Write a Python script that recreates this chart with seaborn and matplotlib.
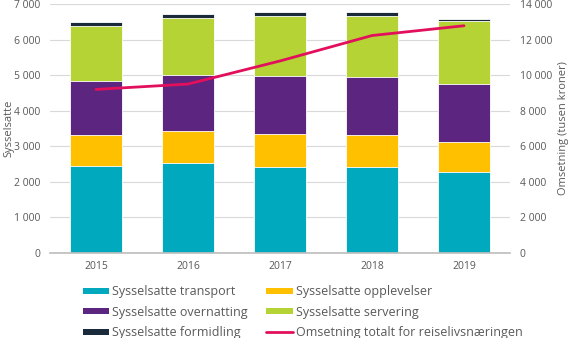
import numpy as np
import pandas as pd
import matplotlib
matplotlib.use("Agg")
import matplotlib.pyplot as plt
from matplotlib.lines import Line2D
from matplotlib.patches import Patch
from matplotlib.ticker import FuncFormatter
import seaborn as sns

years = ["2015", "2016", "2017", "2018", "2019"]
transport = [2450, 2540, 2430, 2430, 2280]
opplevelser = [860, 900, 920, 890, 850]
overnatting = [1530, 1560, 1640, 1620, 1610]
servering = [1550, 1620, 1680, 1730, 1770]
formidling = [100, 95, 110, 95, 70]
omsetning = [9200, 9500, 10800, 12230, 12780]

series_names = ["Sysselsatte transport", "Sysselsatte opplevelser",
                "Sysselsatte overnatting", "Sysselsatte servering",
                "Sysselsatte formidling"]
series_values = [transport, opplevelser, overnatting, servering, formidling]
series_colors = ["#00A9BE", "#FFC000", "#5B2580", "#B5D334", "#1B2A3A"]
line_name = "Omsetning totalt for reiselivsnæringen"
line_color = "#E2105C"
text_color = "#595959"

sns.set_theme(style="white")
plt.rcParams["font.family"] = ["Open Sans", "DejaVu Sans"]

fig = plt.figure(figsize=(5.7, 3.38), dpi=100)
ax = fig.add_axes([50 / 570, 0.2515, 460 / 570, 0.7365])

df = pd.DataFrame({"year": years})
cum = np.zeros(len(years))
tops = []
for vals in series_values:
    cum = cum + np.array(vals)
    tops.append(cum.copy())

# stacked bars: draw cumulative totals from the top layer down
for name, top, color in reversed(list(zip(series_names, tops, series_colors))):
    d = df.copy()
    d["v"] = top
    sns.barplot(data=d, x="year", y="v", color=color, width=0.565,
                edgecolor="white", linewidth=0.6, saturation=1, ax=ax,
                zorder=2)

ax.set_xlim(-0.5, 4.5)
ax.set_ylim(0, 7000)
ax.set_yticks(np.arange(0, 7001, 1000))
fmt = FuncFormatter(lambda v, p: f"{int(v):,}".replace(",", " "))
ax.yaxis.set_major_formatter(fmt)
ax.grid(axis="y", color="#D9D9D9", linewidth=0.8, zorder=0)
ax.set_axisbelow(True)
for s in ["top", "left", "right"]:
    ax.spines[s].set_visible(False)
ax.spines["bottom"].set_color("#BFBFBF")
ax.tick_params(axis="y", length=0, labelsize=7.5, labelcolor=text_color, pad=7)
ax.tick_params(axis="x", length=0, labelsize=7.5, labelcolor=text_color, pad=6)
ax.set_xlabel("")
ax.set_ylabel("Sysselsatte", fontsize=8, color=text_color)
ax.yaxis.set_label_coords(-0.078, 0.5)

ax2 = ax.twinx()
ld = pd.DataFrame({"x": np.arange(len(years)), "y": omsetning})
sns.lineplot(data=ld, x="x", y="y", color=line_color, linewidth=2, ax=ax2)
ax2.set_ylim(0, 14000)
ax2.set_yticks(np.arange(0, 14001, 2000))
ax2.yaxis.set_major_formatter(fmt)
for s in ax2.spines.values():
    s.set_visible(False)
ax2.tick_params(axis="y", length=0, labelsize=7.5, labelcolor=text_color, pad=7)
ax2.set_ylabel("Omsetning (tusen kroner)", fontsize=8, color=text_color)
ax2.yaxis.set_label_coords(1.104, 0.5)
ax2.set_xlabel("")
ax2.grid(False)

handles = [Patch(facecolor=c, edgecolor="none") for c in series_colors]
handles.append(Line2D([0], [0], color=line_color, linewidth=2))
labels = series_names + [line_name]
order = [0, 2, 4, 1, 3, 5]
fig.legend([handles[i] for i in order], [labels[i] for i in order],
           ncol=2, loc="lower left", bbox_to_anchor=(0.125, -0.037),
           frameon=False, fontsize=9, labelcolor=text_color,
           handlelength=2.1, handleheight=0.4, columnspacing=1.5,
           labelspacing=0.6, handletextpad=0.25)

fig.savefig("out.png", dpi=100)
